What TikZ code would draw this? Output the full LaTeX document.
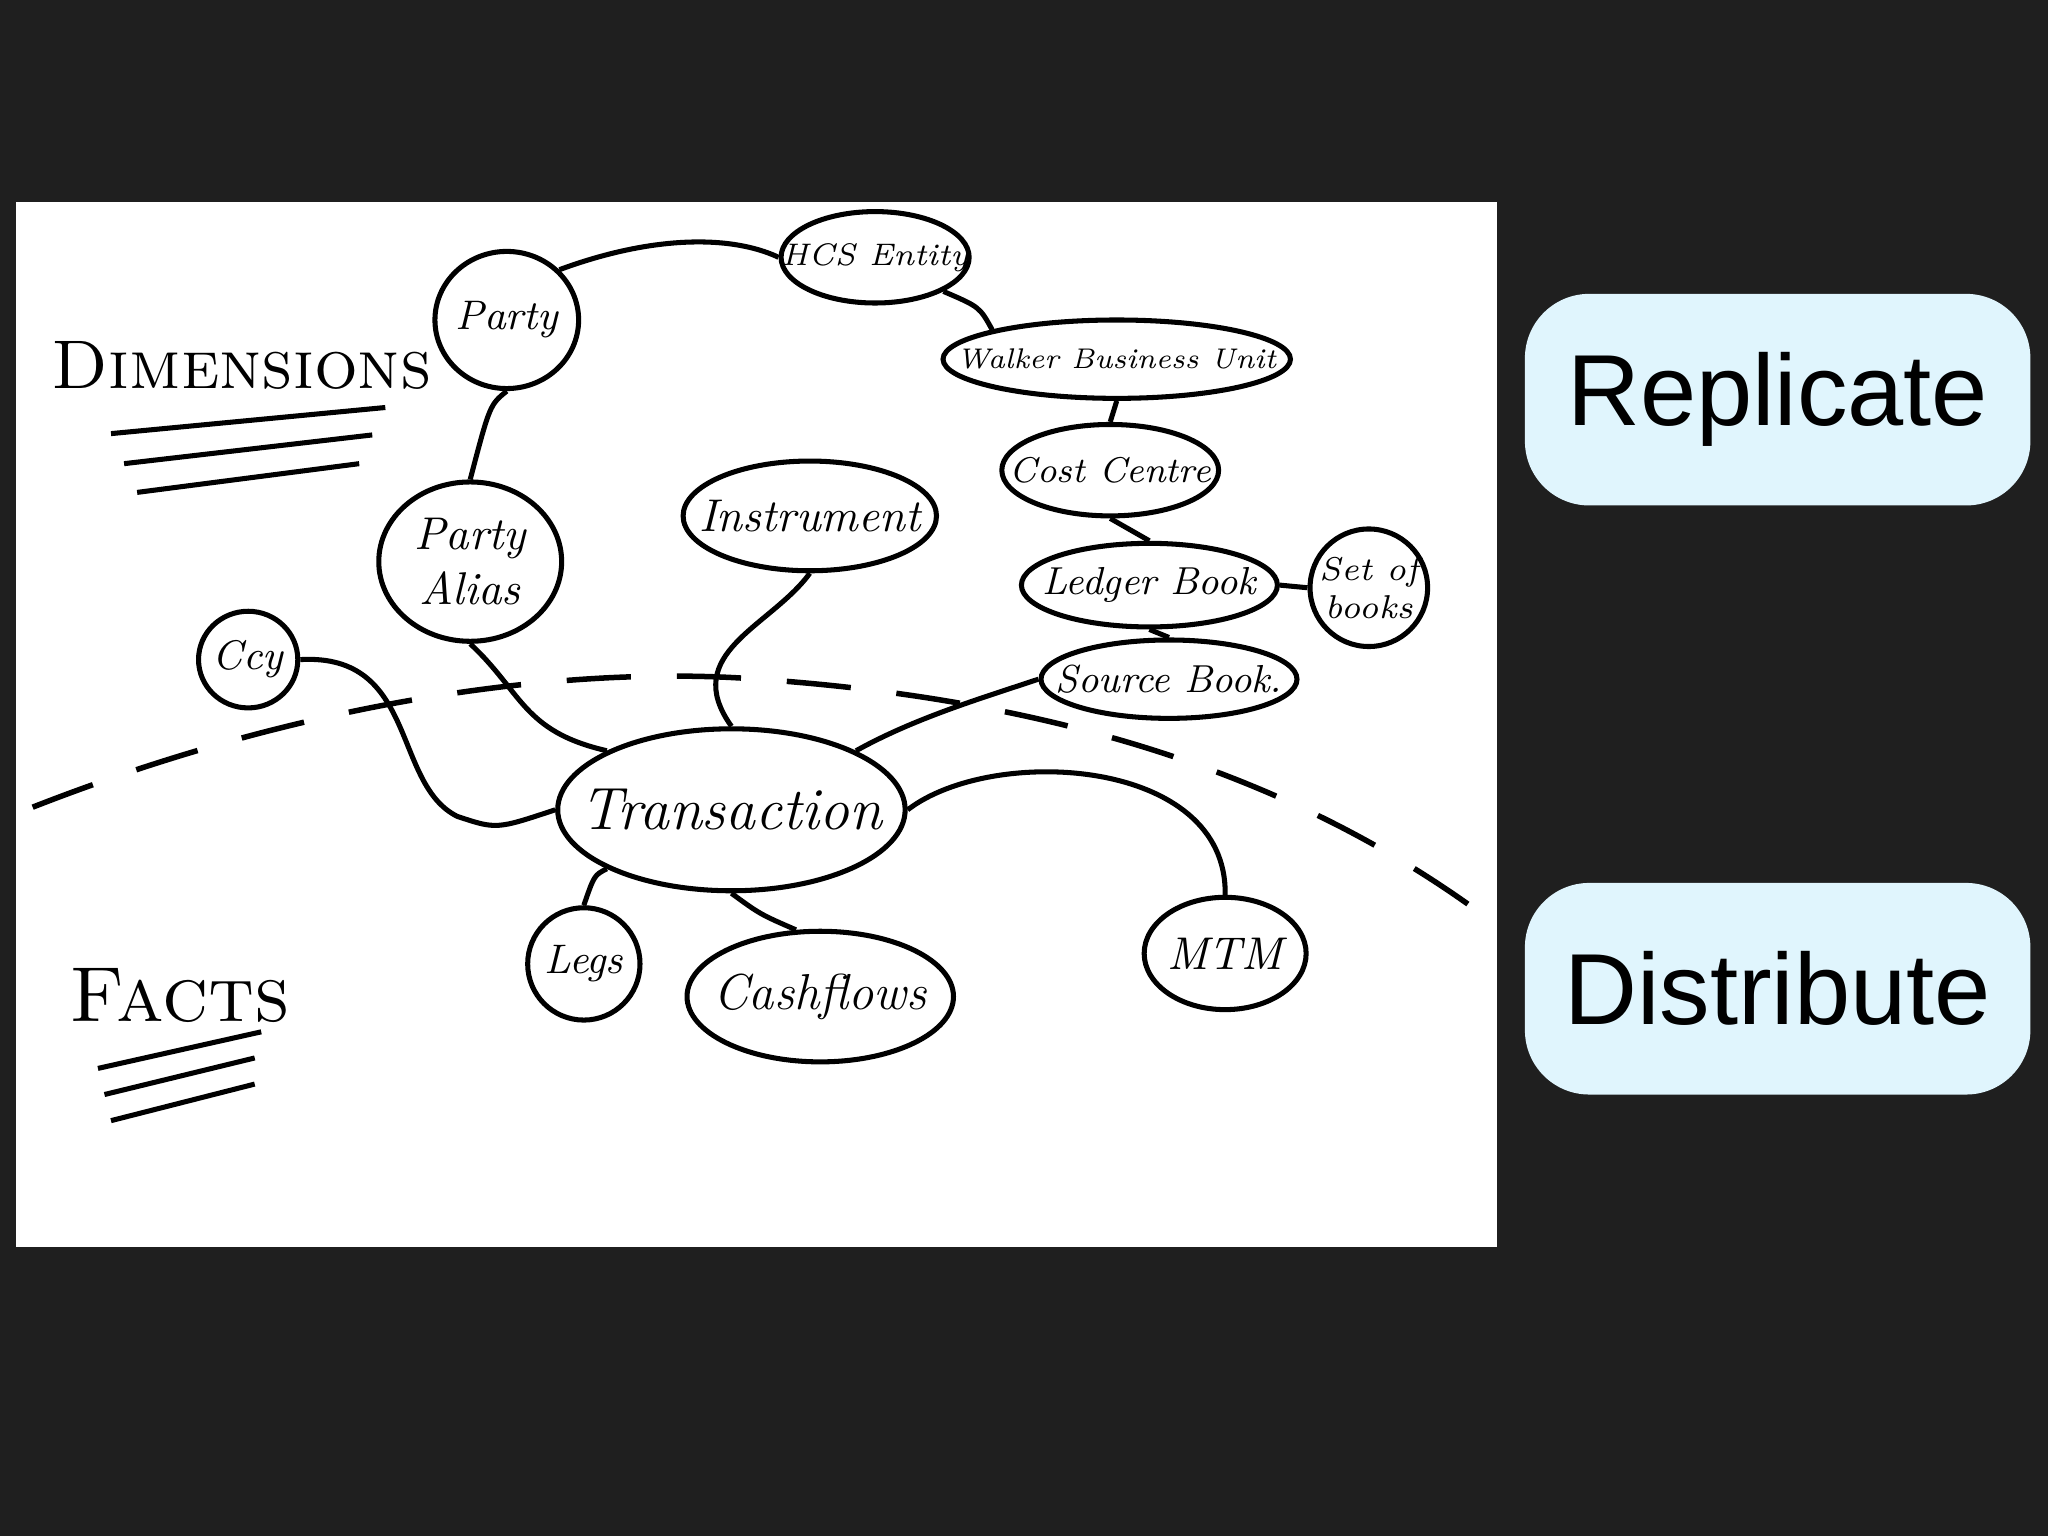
\documentclass[tikz,border=0pt]{standalone}
\usepackage{fontspec}
\setsansfont{Liberation Sans}
\usetikzlibrary{shapes.geometric}
\begin{document}
\begin{tikzpicture}[
  el/.style={draw,ellipse,line width=1.1pt,inner sep=0pt},
  tx/.style={font=\fontsize{9}{10}\selectfont\itshape,align=center,inner sep=0pt},
  ln/.style={line width=1.1pt},
  pill/.style={draw=none,fill=cyan!12!white,rounded corners=14pt,minimum width=3.87cm,minimum height=1.62cm,inner sep=0pt,font=\sffamily\fontsize{22}{26}\selectfont}]
\useasboundingbox (0,0) rectangle (15.68,-11.76);
\fill[black!88] (0,0) rectangle (15.68,-11.76);
\fill[white] (0.12,-1.55) rectangle (11.46,-9.55);
% nodes
\node[el,minimum width=1.44cm,minimum height=0.70cm] (hcs) at (6.70,-1.97) {};
\node[tx,font=\fontsize{6.8}{8}\selectfont\itshape] at (hcs) {HCS Entity};
\node[el,minimum width=1.10cm,minimum height=1.05cm] (party) at (3.88,-2.45) {};
\node[tx] at (party) {Party};
\node[el,minimum width=2.66cm,minimum height=0.60cm] (wbu) at (8.55,-2.75) {};
\node[tx,font=\fontsize{6.2}{7}\selectfont\itshape] at (wbu) {Walker Business Unit};
\node[el,minimum width=1.66cm,minimum height=0.70cm] (cc) at (8.50,-3.60) {};
\node[tx,font=\fontsize{7.8}{9}\selectfont\itshape] at (cc) {Cost Centre};
\node[el,minimum width=1.40cm,minimum height=1.22cm] (pa) at (3.60,-4.30) {};
\node[tx,font=\fontsize{10}{12}\selectfont\itshape] at (pa) {Party\\Alias};
\node[el,minimum width=1.94cm,minimum height=0.84cm] (ins) at (6.20,-3.95) {};
\node[tx,font=\fontsize{10}{11}\selectfont\itshape] at (ins) {Instrument};
\node[el,minimum width=1.96cm,minimum height=0.64cm] (lb) at (8.80,-4.48) {};
\node[tx,font=\fontsize{8.5}{10}\selectfont\itshape] at (lb) {Ledger Book};
\node[el,minimum width=0.90cm,minimum height=0.90cm] (sob) at (10.48,-4.50) {};
\node[tx,font=\fontsize{7.2}{8.2}\selectfont\itshape] at (sob) {Set of\\books};
\node[el,minimum width=1.96cm,minimum height=0.60cm] (sb) at (8.95,-5.20) {};
\node[tx,font=\fontsize{8.5}{10}\selectfont\itshape] at (sb) {Source Book.};
\node[el,minimum width=0.76cm,minimum height=0.74cm] (ccy) at (1.90,-5.05) {};
\node[tx] at (ccy) {Ccy};
\node[el,minimum width=2.66cm,minimum height=1.24cm] (tr) at (5.60,-6.20) {};
\node[tx,font=\fontsize{13}{15}\selectfont\itshape] at (tr) {Transaction};
\node[el,minimum width=0.86cm,minimum height=0.86cm] (legs) at (4.47,-7.38) {};
\node[tx] at (legs) {Legs};
\node[el,minimum width=2.04cm,minimum height=1.00cm] (cf) at (6.28,-7.63) {};
\node[tx,font=\fontsize{11}{12}\selectfont\itshape] at (cf) {Cashflows};
\node[el,minimum width=1.24cm,minimum height=0.86cm] (mtm) at (9.38,-7.30) {};
\node[tx,font=\fontsize{10}{11}\selectfont\itshape] at (mtm) {MTM};
% connectors
\draw[ln] (party.north east) .. controls (5.0,-1.8) and (5.6,-1.8) .. (hcs.west);
\draw[ln] (hcs.south east) .. controls (7.5,-2.35) .. (wbu.north west);
\draw[ln] (wbu.south) -- (cc.north);
\draw[ln] (cc.south) -- (lb.north);
\draw[ln] (lb.east) -- (sob.west);
\draw[ln] (lb.south) -- (sb.north);
\draw[ln] (party.south) .. controls (3.75,-3.1) .. (pa.north);
\draw[ln] (pa.south) .. controls (4.0,-5.3) and (4.0,-5.6) .. (tr.north west);
\draw[ln] (ins.south) .. controls (5.9,-4.8) and (5.2,-5.0) .. (tr.north);
\draw[ln] (sb.west) .. controls (7.5,-5.35) and (7.0,-5.5) .. (tr.north east);
\draw[ln] (ccy.east) .. controls (3.2,-5.0) and (3.0,-6.0) .. (3.5,-6.25) .. controls (3.8,-6.35) .. (tr.west);
\draw[ln] (tr.east) .. controls (7.6,-5.7) and (9.4,-5.8) .. (mtm.north);
\draw[ln] (tr.south west) .. controls (4.55,-6.7) .. (legs.north);
\draw[ln] (tr.south) .. controls (5.82,-7.0) .. (cf.110);
% dashed boundary
\draw[line width=1.2pt,dash pattern=on 14pt off 10pt] (0.25,-6.18) .. controls (2.5,-5.3) and (4.5,-5.1) .. (5.8,-5.2) .. controls (8.0,-5.35) and (9.8,-5.9) .. (11.25,-6.93);
% labels
\node[font=\fontsize{15}{17}\selectfont\scshape,inner sep=0pt] (dim) at (1.85,-2.80) {Dimensions};
\draw[ln] (0.85,-3.32) -- (2.95,-3.12);
\draw[ln] (0.95,-3.55) -- (2.85,-3.33);
\draw[ln] (1.05,-3.77) -- (2.75,-3.55);
\node[font=\fontsize{17}{19}\selectfont\scshape,inner sep=0pt] (facts) at (1.38,-7.62) {Facts};
\draw[ln] (0.75,-8.18) -- (2.0,-7.90);
\draw[ln] (0.80,-8.38) -- (1.95,-8.10);
\draw[ln] (0.85,-8.58) -- (1.95,-8.30);
% right boxes
\node[pill] (rep) at (13.61,-3.06) {Replicate};
\node[pill] (dis) at (13.61,-7.57) {Distribute};
\end{tikzpicture}
\end{document}
